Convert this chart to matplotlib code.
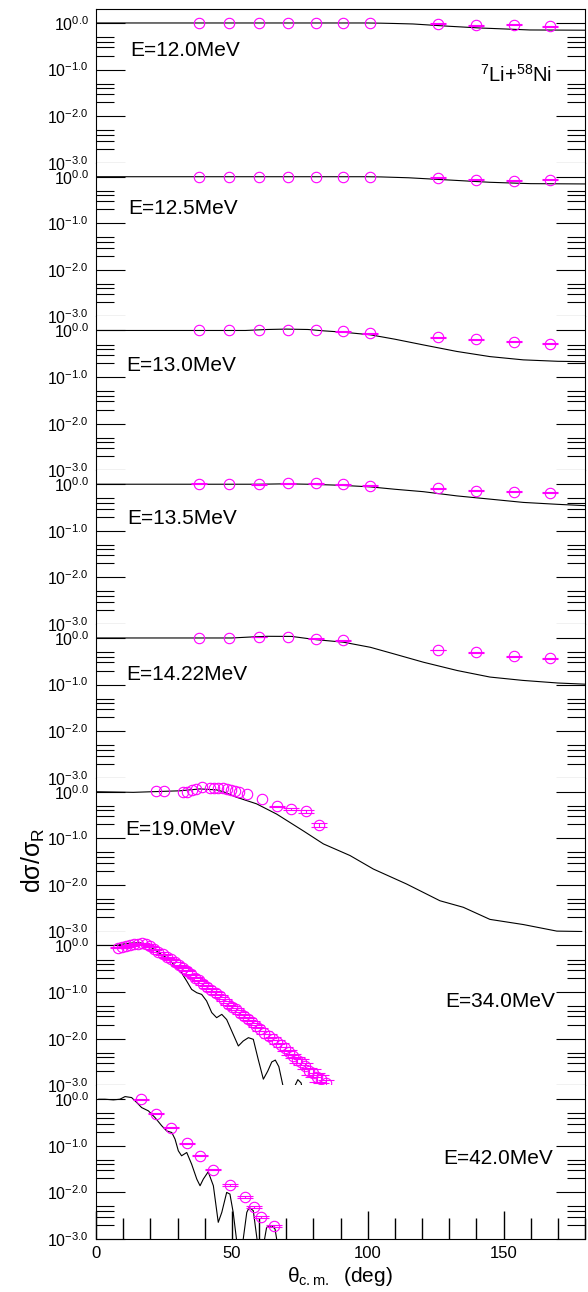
import numpy as np
import matplotlib
matplotlib.use('Agg')
import matplotlib.pyplot as plt
from matplotlib.ticker import FixedLocator, FuncFormatter, MultipleLocator, NullFormatter

plt.rcParams['font.family'] = ['Liberation Sans', 'DejaVu Sans']
plt.rcParams['mathtext.fontset'] = 'custom'
plt.rcParams['mathtext.rm'] = 'Liberation Sans'
plt.rcParams['mathtext.it'] = 'Liberation Sans'
plt.rcParams['mathtext.bf'] = 'Liberation Sans:bold'

nan = np.nan
energies = ['12.0', '12.5', '13.0', '13.5', '14.22', '19.0', '34.0', '42.0']

# ---- elastic data, ratio to Rutherford ----
ang_low = [38, 49, 60, 70.5, 81, 91, 101, 126, 140, 154, 167]
ang_1422 = [38, 49, 60, 70.5, 81, 91, 126, 140, 154, 167]

exp_120 = [1.0, 1.0, 1.0, 1.0, 1.0, 1.0, 1.0, 0.968, 0.891, 0.92, 0.849]
err_120 = [nan, nan, nan, nan, nan, nan, nan, 0.015, 0.015, 0.015, 0.015]
exp_125 = [1.0, 1.0, 1.0, 1.0, 1.0, 1.0, 1.0, 0.955, 0.863, 0.82, 0.863]
err_125 = [nan, nan, nan, nan, nan, nan, nan, 0.015, 0.015, 0.015, 0.015]
exp_130 = [1.0, 1.0, 1.0, 1.033, 1.0, 0.955, 0.871, 0.708, 0.646, 0.575, 0.525]
err_130 = [nan, nan, nan, nan, nan, 0.015, 0.013, 0.012, 0.01, 0.01, 0.01]
exp_135 = [1.033, 1.0, 1.0, 1.047, 1.047, 1.0, 0.933, 0.82, 0.731, 0.697, 0.661]
err_135 = [0.015, nan, 0.015, 0.015, 0.015, 0.015, 0.014, 0.012, 0.011, 0.01, 0.01]
exp_1422 = [1.0, 1.0, 1.047, 1.047, 0.968, 0.891, 0.55, 0.49, 0.407, 0.363]
err_1422 = [nan, nan, 0.015, nan, 0.015, 0.014, 0.01, 0.01, 0.008, 0.008]

ang_190 = [22.1, 25.0, 32.1, 33.6, 35.2, 36.8, 38.9, 42.0, 43.4, 45.0, 46.6,
           48.1, 49.6, 51.2, 52.7, 55.5, 61.0, 66.7, 71.6, 77.2, 82.1]
exp_190 = [1.047, 1.047, 1.0, 1.0, 1.096, 1.148, 1.288, 1.23, 1.202, 1.202, 1.202,
           1.148, 1.096, 1.033, 1.0, 0.891, 0.692, 0.49, 0.427, 0.38, 0.195]
err_190 = [nan, nan, nan, nan, nan, nan, nan, nan, nan, nan, nan,
           nan, nan, nan, nan, nan, nan, 0.015, 0.02, 0.025, 0.02]

ang_340 = [8.0, 9.5, 11.0, 12.5, 14.0, 15.5, 17.0, 18.5, 20.0, 21.5,
           23.0, 24.5, 26.0, 27.5, 29.0, 30.5, 32.0, 33.5, 35.0, 36.5,
           38.0, 39.5, 41.0, 42.5, 44.0, 45.5, 47.0, 48.5, 50.0, 51.5,
           53.0, 54.5, 56.0, 57.5, 59.0, 60.5, 62.0, 63.5, 65.0, 66.5,
           68.0, 69.5, 71.0, 72.5, 74.0, 75.5, 77.0, 78.5, 80.0, 81.5,
           83.0, 84.5]
exp_340 = [0.895, 0.912, 0.955, 1.016, 1.059, 1.091, 1.104, 1.059, 0.955, 0.832,
           0.724, 0.646, 0.562, 0.501, 0.442, 0.376, 0.331, 0.288, 0.240, 0.204,
           0.178, 0.151, 0.130, 0.112, 0.0955, 0.0832, 0.0684, 0.0562, 0.0484, 0.0431,
           0.0363, 0.0309, 0.0269, 0.0229, 0.0191, 0.0158, 0.0135, 0.0115, 0.0100, 0.0085,
           0.00733, 0.00617, 0.00513, 0.00427, 0.0035, 0.00316, 0.00257, 0.0020, 0.00186, 0.0015,
           0.00138, 0.00110]
relerr_340 = [0.02, 0.02, 0.02, 0.02, 0.02, 0.02, 0.02, 0.02, 0.02, 0.02,
              0.02, 0.02, 0.02, 0.02, 0.02, 0.02, 0.02, 0.02, 0.02, 0.02,
              0.04, 0.04, 0.04, 0.04, 0.04, 0.04, 0.04, 0.04, 0.04, 0.04,
              0.05, 0.05, 0.05, 0.05, 0.05, 0.08, 0.08, 0.08, 0.08, 0.08,
              0.1, 0.1, 0.12, 0.12, 0.15, 0.15, 0.15, 0.18, 0.18, 0.2,
              0.2, 0.2]

ang_420 = [16.6, 22.0, 27.5, 33.4, 38.3, 42.9, 49.3, 54.8, 58.3, 60.7, 65.5]
exp_420 = [1.0, 0.485, 0.247, 0.114, 0.0611, 0.0306, 0.0144, 0.00807, 0.00478, 0.00291, 0.00193]
relerr_420 = [0.03, 0.03, 0.03, 0.03, 0.03, 0.03, 0.04, 0.04, 0.05, 0.05, 0.05]

# ---- optical model calculations ----
th_ang_120 = [0, 100, 105, 110, 116.7, 130.3, 141.3, 159.7, 180]
th_120 = [1.0, 1.0, 0.99, 0.975, 0.952, 0.848, 0.781, 0.708, 0.70]
th_ang_125 = [0, 100, 105, 115, 130, 145, 160, 180]
th_125 = [1.0, 1.0, 0.99, 0.95, 0.85, 0.76, 0.71, 0.70]
th_ang_130 = [0, 55, 63, 70, 78, 84, 91, 101, 110, 120.5, 132.8, 145, 157.3, 170, 180]
th_130 = [1.0, 1.0, 1.05, 1.07, 1.05, 0.98, 0.92, 0.807, 0.65, 0.49, 0.355, 0.275, 0.234, 0.218, 0.214]
th_ang_135 = [0, 60, 70, 78, 90, 101, 110, 120.5, 132.8, 145, 157.3, 170, 180]
th_135 = [1.0, 1.0, 1.02, 1.0, 0.95, 0.877, 0.78, 0.692, 0.562, 0.479, 0.407, 0.37, 0.347]
th_ang_1422 = [0, 50, 57, 63, 72, 81, 91, 101, 110, 120.5, 133, 145, 157, 170, 180]
th_1422 = [1.0, 1.0, 1.05, 1.086, 1.08, 0.92, 0.813, 0.631, 0.45, 0.302, 0.2, 0.145, 0.123, 0.108, 0.102]
th_ang_190 = [0, 13.7, 30.9, 38.3, 44.4, 46.9, 51.8, 59.1, 66.5, 76.3, 83.7, 93.5, 102.1,
              114.3, 126.6, 135.2, 145.0, 157.3, 169.6, 178.8]
th_190 = [1.0, 0.97, 1.047, 1.148, 1.096, 1.0, 0.759, 0.55, 0.331, 0.1445, 0.0759, 0.0427, 0.0219,
          0.01047, 0.00457, 0.00331, 0.00182, 0.00141, 0.00102, 0.0010]
th_ang_340 = [0, 4, 7, 9, 11.3, 14, 16.2, 18.7, 20.5, 22.3, 24, 26, 28, 29.7, 31.5, 33.4, 35.2,
              37.1, 38.9, 40.7, 42.6, 44.4, 46.3, 48.1, 50.5, 52.4, 54.2, 56.1, 57.9, 59.7,
              61.6, 63.2, 64.7, 66.0, 67.3, 68.7, 70.5, 72.5, 74.3, 75.5, 77]
th_340 = [1.0, 1.0, 1.0, 1.047, 1.104, 1.135, 1.14, 1.05, 0.891, 0.759, 0.646, 0.544, 0.427,
          0.332, 0.259, 0.172, 0.114, 0.0968, 0.0891, 0.0646, 0.0363, 0.0282, 0.0332, 0.0257,
          0.0124, 0.00697, 0.00891, 0.0105, 0.00968, 0.00361, 0.00135, 0.0020, 0.00316,
          0.00347, 0.00251, 0.00105, 0.0004, 0.00079, 0.00132, 0.00112, 0.0004]
th_ang_420 = [1, 3.3, 6.4, 8.8, 10.7, 13.1, 15.0, 16.8, 19.3, 21.7, 24.2, 26.0, 27.9, 29.1,
              30.3, 31.5, 33.4, 35.2, 37.1, 38.3, 39.5, 41.3, 43.2, 45.0, 46.3, 48.1, 49.3,
              50.5, 51.7, 53.0, 55.5, 56.4, 57.9, 59.1, 60.5, 62.8, 64.7, 65.9, 66.5, 67.5]
th_420 = [1.0, 1.0, 0.968, 1.0, 1.14, 1.086, 0.849, 0.662, 0.562, 0.405, 0.269, 0.209, 0.193,
          0.139, 0.0782, 0.0611, 0.0719, 0.0404, 0.0193, 0.0139, 0.0193, 0.0277, 0.0139,
          0.00228, 0.00372, 0.0100, 0.0092, 0.00372, 0.0010, 0.0003, 0.00372, 0.00478,
          0.00405, 0.00118, 0.0003, 0.00178, 0.00193, 0.00164, 0.0010, 0.0004]

data_sets = [
    (ang_low, exp_120, err_120, th_ang_120, th_120),
    (ang_low, exp_125, err_125, th_ang_125, th_125),
    (ang_low, exp_130, err_130, th_ang_130, th_130),
    (ang_low, exp_135, err_135, th_ang_135, th_135),
    (ang_1422, exp_1422, err_1422, th_ang_1422, th_1422),
    (ang_190, exp_190, err_190, th_ang_190, th_190),
    (ang_340, exp_340, list(np.array(exp_340) * np.array(relerr_340)), th_ang_340, th_340),
    (ang_420, exp_420, list(np.array(exp_420) * np.array(relerr_420)), th_ang_420, th_420),
]

# energy label placement (x in deg, y in ratio, alignment)
label_pos = [(12.5, 0.263, 'left'), (12.0, 0.209, 'left'), (11.0, 0.174, 'left'),
             (11.5, 0.186, 'left'), (11.0, 0.162, 'left'), (10.8, 0.151, 'left'),
             (169, 0.063, 'right'), (168.2, 0.054, 'right')]

W, H = 588, 1292
fig = plt.figure(figsize=(W / 100, H / 100), dpi=100)
axes = fig.subplots(8, 1, sharex=True, gridspec_kw=dict(hspace=0))
fig.subplots_adjust(left=96 / W, right=585 / W, top=1 - 9 / H, bottom=1 - 1239 / H)

mag = '#ff00ff'
minor_y = [m * 10.0**k for k in (-3, -2, -1) for m in (2, 3, 4, 5)]

for i, ax in enumerate(axes):
    xa, ya, ea, tx, ty = data_sets[i]
    ax.set_yscale('log')
    ax.plot(tx, ty, color='black', lw=0.8)
    eb = ax.errorbar(xa, ya, yerr=ea, fmt='o', ms=7.5, mfc='none', mec=mag, mew=0.8,
                     ecolor=mag, elinewidth=0.8, capsize=5.6, capthick=0.8)
    eb[0].set_clip_on(False)
    for c in eb[1]:
        c.set_clip_on(False)
    for c in eb[2]:
        c.set_clip_on(False)

    ax.set_ylim(1e-3, 10**0.3)
    ax.yaxis.set_major_locator(FixedLocator([1e-3, 1e-2, 1e-1, 1.0]))
    ax.yaxis.set_major_formatter(FuncFormatter(lambda v, p: r'$10^{%.1f}$' % np.log10(v)))
    ax.yaxis.set_minor_locator(FixedLocator(minor_y))
    ax.yaxis.set_minor_formatter(NullFormatter())
    ax.tick_params(axis='y', which='major', direction='in', length=21, width=0.8,
                   left=True, right=True, labelsize=11.5, pad=5)
    ax.tick_params(axis='y', which='minor', direction='in', length=13, width=0.8,
                   left=True, right=True)

    ax.spines['top'].set_visible(i == 0)
    ax.spines['bottom'].set_visible(i == 7)
    for s in ax.spines.values():
        s.set_linewidth(0.8)

    if i < 7:
        ax.tick_params(axis='x', which='both', bottom=False, top=False, labelbottom=False)

    lx, ly, ha = label_pos[i]
    ax.text(lx, ly, 'E=' + energies[i] + 'MeV', fontsize=15, ha=ha, va='center')

axes[0].text(167.8, 0.078, r'$^{7}$Li+$^{58}$Ni', fontsize=14.5, ha='right', va='center')

bx = axes[7]
bx.set_xlim(0, 180)
bx.xaxis.set_major_locator(MultipleLocator(50))
bx.xaxis.set_minor_locator(MultipleLocator(10))
bx.tick_params(axis='x', which='major', direction='in', length=20, width=1.0,
               top=False, labelsize=12, pad=5)
bx.tick_params(axis='x', which='minor', direction='in', length=15, width=1.0, top=False)

fig.text(33 / W, 1 - 860 / H, r'd$\sigma$/$\sigma_R$', rotation=90, fontsize=18,
         ha='center', va='center')
fig.text(340 / W, 1 - 1277 / H, r'$\theta_{c.m.}$  (deg)', fontsize=15,
         ha='center', va='center')

fig.savefig('out.png', dpi=100)
